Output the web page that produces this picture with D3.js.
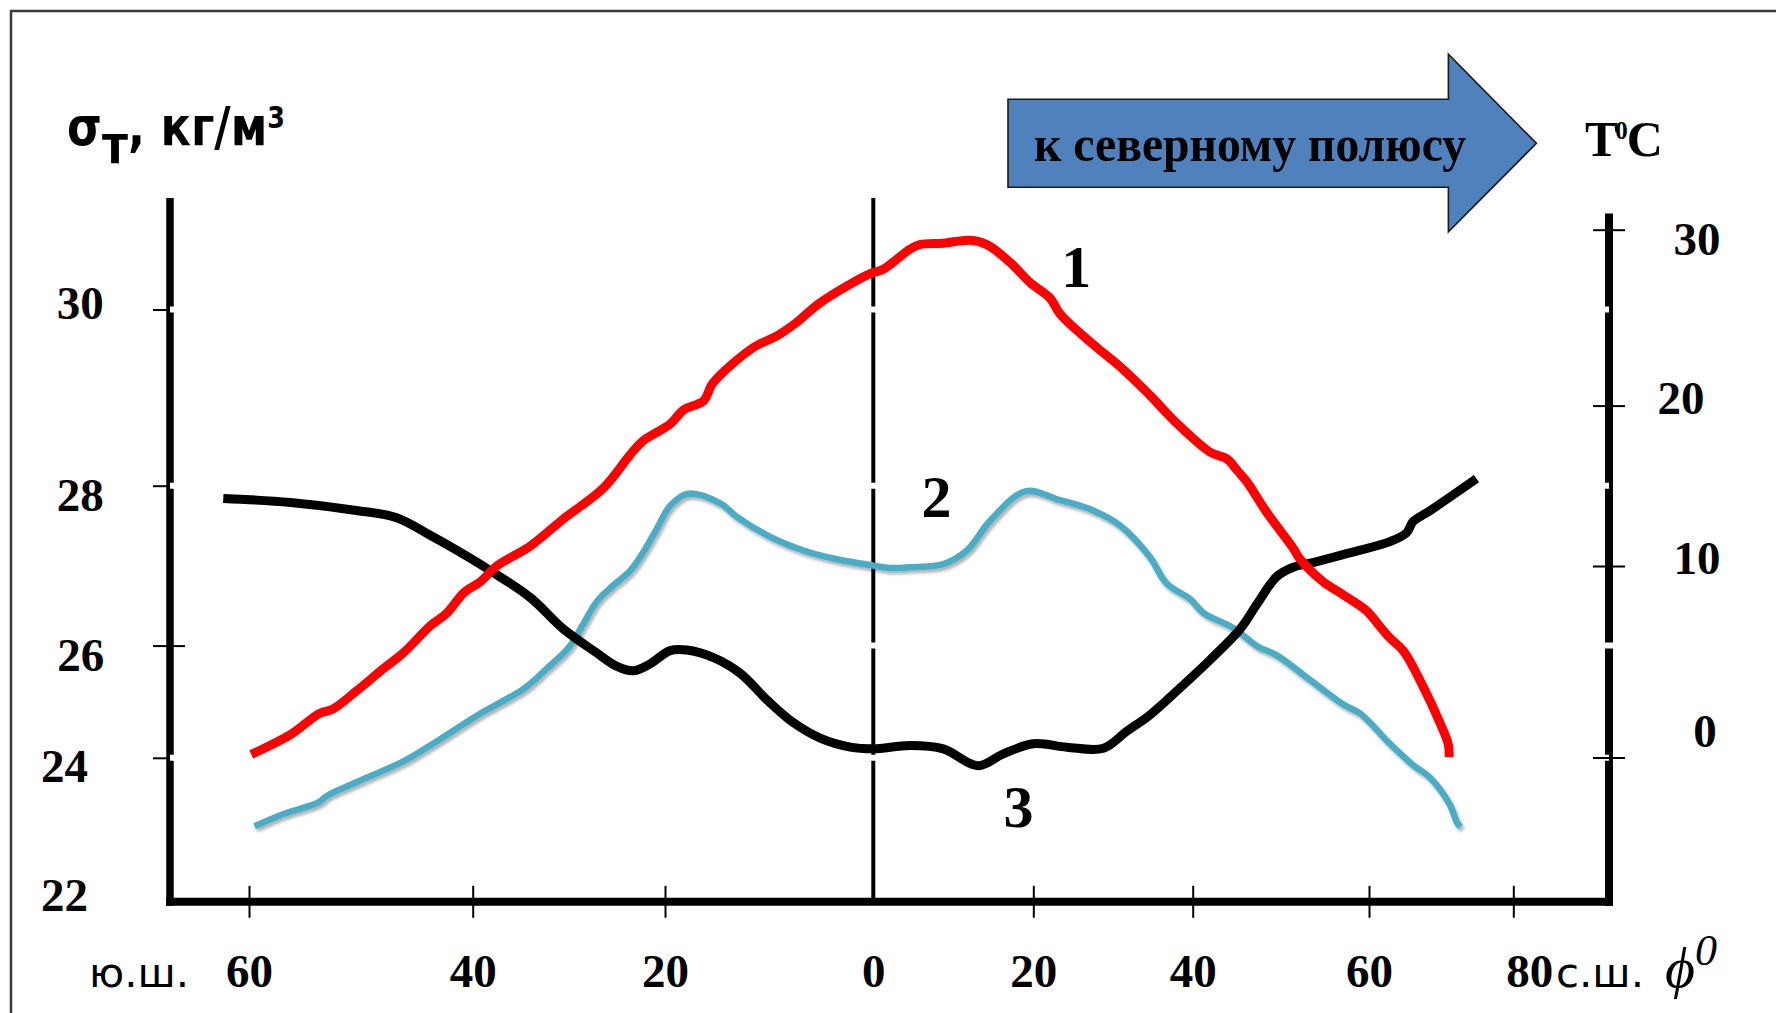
<!DOCTYPE html>
<html><head><meta charset="utf-8">
<script src="https://cdn.jsdelivr.net/npm/d3@7"></script>
<style>html,body{margin:0;padding:0;background:#fff;overflow:hidden}</style>
</head><body>
<svg id="chart" width="1776" height="1013"></svg>
<script>
// ---------- DATA ----------
const latTicks = [-60, -40, -20, 0, 20, 40, 60, 80];
const latTickLabels = ["60", "40", "20", "0", "20", "40", "60", "80"];
const sigmaTicks = [30, 28, 26, 24, 22];
const tempTicks = [30, 20, 10, 0];

// 1 — temperature, °C (right axis)
const tempLat = [-59.8,-56.3,-53.7,-52.5,-50.4,-48.0,-46.2,-43.8,-42.3,-40.8,-39.2,-37.5,-34.0,-30.6,-26.4,-23.6,-22.3,-19.5,-18.2,-16.3,-15.4,-11.5,-9.3,-7.4,-5.1,-0.3,1.25,4.6,5.8,8.75,12.1,14.2,17.1,19.6,22.1,23.35,26.3,27.95,31.3,34.6,38.0,42.0,43.9,45.0,46.1,48.4,51.4,52.2,54.8,57.1,59.7,61.5,62.9,64.75,67.5,69.8,71.0,71.1];
const tempVal = [0.16,1.19,2.30,2.53,3.47,4.63,5.46,6.87,7.55,8.60,9.18,10.0,11.25,12.92,14.86,16.95,17.79,18.85,19.74,20.27,21.28,23.31,23.95,24.71,25.85,27.50,27.75,28.90,29.15,29.23,29.40,29.15,28.14,26.99,26.11,25.22,23.95,23.31,22.05,20.60,18.90,17.09,16.67,15.99,15.28,13.34,11.11,10.41,9.18,8.49,7.67,6.85,6.24,5.57,3.70,1.84,0.67,0.02];

// 2 — blue curve (plotted against the left axis)
const salLat = [-59.5,-56.9,-53.8,-53.05,-50.4,-46.2,-43.8,-39.2,-34.7,-32.3,-29.9,-28.5,-27.1,-25.7,-23.6,-22.3,-20.9,-19.5,-17.8,-14.7,-13.1,-9.9,-6.7,-3.5,0,2.1,4.6,8.75,11.7,14.6,19.0,23.35,27.5,30.9,34.6,36.7,39.7,41.2,44.6,47.3,49.5,53.3,57.1,59.0,62.9,66.1,68.5,71.2,72.2,72.7];
const salVal = [23.05,23.22,23.38,23.47,23.66,23.95,24.22,24.79,25.23,25.59,25.99,26.27,26.55,26.72,26.94,27.16,27.45,27.75,27.90,27.78,27.61,27.36,27.19,27.08,27.00,26.97,26.98,27.02,27.19,27.56,27.93,27.82,27.69,27.50,27.11,26.78,26.58,26.41,26.22,25.99,25.83,25.39,24.95,24.79,24.25,23.90,23.72,23.35,23.10,23.04];

// 3 — density sigma_t, kg/m3 (left axis)
const densLat = [-62.3,-56.3,-50.4,-46.8,-43.8,-41.4,-38.2,-34.0,-30.6,-27.1,-25.0,-23.3,-21.6,-19.5,-17.9,-15.4,-12.8,-10.2,-7.7,-5.1,-2.2,0,4.6,8.75,13.1,16.25,20,24.2,28.8,31.7,34.6,38.0,42.0,45.4,47.3,49.5,51.4,54.1,57.8,62.9,65.2,66.1,68.5,74.9];
const densVal = [27.84,27.79,27.69,27.60,27.38,27.19,26.94,26.60,26.21,25.87,25.63,25.55,25.67,25.91,25.92,25.79,25.51,25.03,24.63,24.35,24.19,24.16,24.22,24.16,23.89,24.07,24.25,24.19,24.17,24.47,24.76,25.19,25.75,26.21,26.52,26.86,26.98,27.05,27.16,27.30,27.41,27.55,27.69,28.08];

// curve number labels: [lat, value]
const label1 = [25.4, 26.74];   // on temperature scale
const label2 = [7.9, 27.61];    // on sigma scale
const label3 = [18.15, 23.04];  // on sigma scale

// ---------- LAYOUT ----------
const W = 1776, H = 1013;
const leftX = 170, rightX = 1609, plotTop = 198, rightTop = 213.5;
const xRange = [249, 472.7, 665, 873.3, 1033.3, 1192.7, 1369, 1513.3];
const sigmaDomain = [22, 24, 26, 28, 30], sigmaRange = [901.8, 757.8, 645.6, 485.7, 309.5];
const tempDomain = [0, 10, 20, 30], tempRange = [757.5, 566, 405.6, 229.7];
const leftLabelX = [80.3, 80.3, 80.7, 64.5, 64.5], leftLabelDy = [8.8, 24.3, 24.8, 23.4, 8.4];
const rightLabelX = [1697, 1681, 1697, 1705], rightLabelDy = [24.7, 8, 7.2, -10.6];
const serif = "'Liberation Serif','Times New Roman',serif";
const sans = "'DejaVu Sans','Noto Sans',sans-serif";

const x = d3.scaleLinear().domain(latTicks).range(xRange);
const yS = d3.scaleLinear().domain(sigmaDomain).range(sigmaRange);
const yT = d3.scaleLinear().domain(tempDomain).range(tempRange);
const baseY = yS(22);

const svg = d3.select('#chart');
const defs = svg.append('defs');
defs.append('filter').attr('id', 'sh').attr('x', '-5%').attr('y', '-10%').attr('width', '110%').attr('height', '125%')
  .append('feDropShadow').attr('dx', 2).attr('dy', 3).attr('stdDeviation', 1.6)
  .attr('flood-color', '#000').attr('flood-opacity', 0.3);

svg.append('rect').attr('width', W).attr('height', H).attr('fill', '#fff');
// frame
svg.append('rect').attr('x', 11).attr('y', 11).attr('width', 1900).attr('height', 1200)
  .attr('fill', 'none').attr('stroke', '#3a3a3a').attr('stroke-width', 2.5);

// equator line
svg.append('line').attr('x1', x(0)).attr('x2', x(0)).attr('y1', plotTop).attr('y2', baseY)
  .attr('stroke', '#000').attr('stroke-width', 4);

// axis lines
svg.append('line').attr('x1', leftX).attr('x2', leftX).attr('y1', plotTop).attr('y2', baseY + 4)
  .attr('stroke', '#000').attr('stroke-width', 7.5);
svg.append('line').attr('x1', rightX).attr('x2', rightX).attr('y1', rightTop).attr('y2', baseY + 4)
  .attr('stroke', '#000').attr('stroke-width', 8);
svg.append('line').attr('x1', leftX - 4).attr('x2', rightX + 4).attr('y1', baseY).attr('y2', baseY)
  .attr('stroke', '#000').attr('stroke-width', 8);

// white gaps at sigma tick levels
svg.append('g').selectAll('line').data(sigmaTicks.filter(d => d !== 22)).join('line')
  .attr('x1', d => d === 26 ? leftX + 4 : leftX)
  .attr('x2', d => d === 26 ? rightX + 5 : rightX)
  .attr('y1', d => yS(d)).attr('y2', d => yS(d))
  .attr('stroke', '#fff').attr('stroke-width', 6);

// left axis
const gL = svg.append('g').attr('transform', `translate(${leftX},0)`)
  .call(d3.axisLeft(yS).tickValues(sigmaTicks).tickSize(17).tickFormat(d3.format('d')));
gL.select('.domain').remove();
gL.selectAll('.tick line').attr('stroke', '#000').attr('stroke-width', 2)
  .attr('x1', d => d === 26 ? 15 : 0)
  .attr('display', d => d === 22 ? 'none' : null);
gL.selectAll('.tick text')
  .attr('x', (d, i) => leftLabelX[i] - leftX).attr('y', (d, i) => leftLabelDy[i]).attr('dy', null)
  .attr('text-anchor', 'middle').attr('fill', '#000')
  .style('font-family', serif).style('font-weight', 'bold').style('font-size', '47px');

// right axis
const gR = svg.append('g').attr('transform', `translate(${rightX},0)`)
  .call(d3.axisRight(yT).tickValues(tempTicks).tickSize(16).tickFormat(d3.format('d')));
gR.select('.domain').remove();
gR.selectAll('.tick line').attr('stroke', '#000').attr('stroke-width', 2).attr('x1', -16);
gR.selectAll('.tick text')
  .attr('x', (d, i) => rightLabelX[i] - rightX).attr('y', (d, i) => rightLabelDy[i]).attr('dy', null)
  .attr('text-anchor', 'middle').attr('fill', '#000')
  .style('font-family', serif).style('font-weight', 'bold').style('font-size', '47px');

// bottom axis
const gB = svg.append('g').attr('transform', `translate(0,${baseY})`)
  .call(d3.axisBottom(x).tickValues(latTicks).tickSize(16).tickFormat((d, i) => latTickLabels[i]));
gB.select('.domain').remove();
gB.selectAll('.tick line').attr('stroke', '#000').attr('stroke-width', 2).attr('y1', -16)
  .attr('display', d => d === 0 ? 'none' : null);
gB.selectAll('.tick text')
  .attr('y', 85).attr('dy', null).attr('x', d => d === 80 ? 16 : 0)
  .attr('text-anchor', 'middle').attr('fill', '#000')
  .style('font-family', serif).style('font-weight', 'bold').style('font-size', '47px');

// hemisphere labels
svg.append('text').attr('x', 89).attr('y', 986.7).text('ю.ш.')
  .attr('textLength', 100).attr('lengthAdjust', 'spacingAndGlyphs')
  .style('font-family', sans).style('font-size', '40px').attr('fill', '#000');
svg.append('text').attr('x', 1556).attr('y', 986.7).text('с.ш.')
  .attr('textLength', 88).attr('lengthAdjust', 'spacingAndGlyphs')
  .style('font-family', sans).style('font-size', '40px').attr('fill', '#000');
const phi = svg.append('text').attr('x', 1665).attr('y', 987)
  .style('font-family', serif).style('font-style', 'italic').attr('fill', '#000');
phi.append('tspan').text('ϕ').style('font-size', '58px');
phi.append('tspan').text('0').style('font-size', '44px').attr('dy', -22);

// ---------- CURVES ----------
const toPts = (lats, vals) => lats.map((d, i) => [d, vals[i]]);
const lineT = d3.line().x(d => x(d[0])).y(d => yT(d[1])).curve(d3.curveCatmullRom.alpha(0.5));
const lineS = d3.line().x(d => x(d[0])).y(d => yS(d[1])).curve(d3.curveCatmullRom.alpha(0.5));

svg.append('path').datum(toPts(salLat, salVal)).attr('d', lineS)
  .attr('fill', 'none').attr('stroke', '#4BACC6').attr('stroke-width', 6.5)
  .attr('stroke-linejoin', 'round').attr('filter', 'url(#sh)');
svg.append('path').datum(toPts(densLat, densVal)).attr('d', lineS)
  .attr('fill', 'none').attr('stroke', '#000').attr('stroke-width', 9)
  .attr('stroke-linejoin', 'round');
svg.append('path').datum(toPts(tempLat, tempVal)).attr('d', lineT)
  .attr('fill', 'none').attr('stroke', '#FF0000').attr('stroke-width', 9)
  .attr('stroke-linejoin', 'round');

// curve numbers
const numStyle = s => s.attr('text-anchor', 'middle').attr('fill', '#000')
  .style('font-family', serif).style('font-weight', 'bold').style('font-size', '60px');
svg.append('text').attr('x', x(label1[0])).attr('y', yT(label1[1])).text('1').call(numStyle);
svg.append('text').attr('x', x(label2[0])).attr('y', yS(label2[1])).text('2').call(numStyle);
svg.append('text').attr('x', x(label3[0])).attr('y', yS(label3[1])).text('3').call(numStyle);

// ---------- TITLES ----------
const t = svg.append('text').attr('x', 67).attr('y', 145).attr('fill', '#000')
  .attr('textLength', 218).attr('lengthAdjust', 'spacingAndGlyphs')
  .style('font-family', sans).style('font-weight', 'bold').style('font-size', '53px');
t.append('tspan').text('σ');
t.append('tspan').text('т').attr('dy', 18);
t.append('tspan').text(', кг/м').attr('dy', -18);
t.append('tspan').text('3').style('font-size', '30px').attr('dy', -17);

// arrow
const ar = d3.path();
ar.moveTo(1008, 99.3); ar.lineTo(1448.4, 99.3); ar.lineTo(1448.4, 54.3); ar.lineTo(1536.4, 143.3);
ar.lineTo(1448.4, 231.7); ar.lineTo(1448.4, 187.3); ar.lineTo(1008, 187.3); ar.closePath();
svg.append('path').attr('d', ar.toString()).attr('fill', '#4F81BD').attr('stroke', '#1a1a1a').attr('stroke-width', 1.6);
svg.append('text').attr('x', 1034).attr('y', 161).text('к северному полюсу').attr('fill', '#000')
  .attr('textLength', 432).attr('lengthAdjust', 'spacingAndGlyphs')
  .style('font-family', serif).style('font-weight', 'bold').style('font-size', '51px');

const tc = svg.append('text').attr('x', 1585).attr('y', 156).attr('fill', '#000')
  .style('font-family', serif).style('font-weight', 'bold').style('font-size', '50px');
tc.append('tspan').text('T');
tc.append('tspan').text('0').style('font-size', '25px').attr('dx', -3).attr('dy', -17);
tc.append('tspan').text('C').attr('dy', 17).attr('dx', -1);
</script>
</body></html>
